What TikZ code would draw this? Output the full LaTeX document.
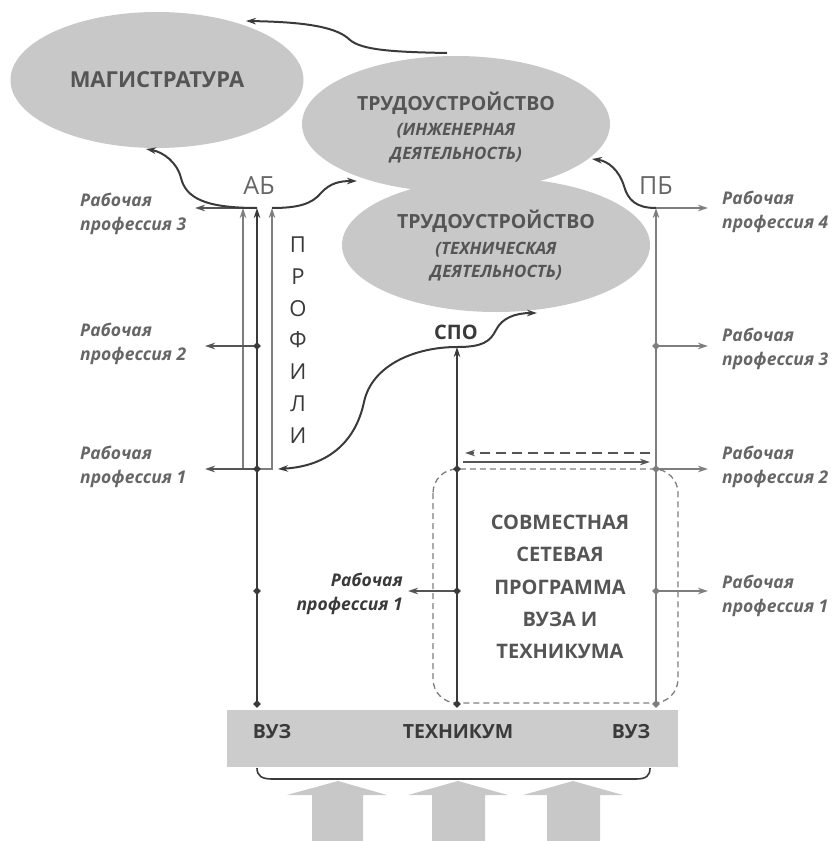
\documentclass[tikz,border=0pt]{standalone}
\usepackage{fontspec}
\setmainfont{Open Sans}
\usetikzlibrary{arrows.meta,shapes.geometric}
\definecolor{ellc}{HTML}{C8C8C8}
\definecolor{boxc}{HTML}{CCCCCC}
\definecolor{dk}{HTML}{3A3A3A}
\definecolor{md}{HTML}{555555}
\definecolor{lt}{HTML}{7E7E7E}
\definecolor{lbl}{HTML}{666666}
\begin{document}
\begin{tikzpicture}[x=1pt,y=-1pt,
  ell/.style={ellipse, fill=ellc, draw=none, inner sep=0pt},
  tip/.style={-{Stealth[length=10pt,width=6.5pt]}},
  tipb/.style={{Stealth[length=10pt,width=6.5pt]}-{Stealth[length=10pt,width=6.5pt]}},
  jdot/.style={diamond, fill=dk, inner sep=0pt, minimum size=8pt},
  jdotg/.style={diamond, fill=lt, inner sep=0pt, minimum size=8pt},
  dkln/.style={draw=dk, line width=2.2pt},
  grln/.style={draw=lt, line width=2pt},
  thinln/.style={draw=lt, line width=1.2pt},
  hln/.style={draw=md, line width=1.8pt},
  hlng/.style={draw=lt, line width=1.8pt},
  curv/.style={draw=dk, line width=2pt},
  ttl/.style={font=\fontsize{19.5}{22}\selectfont\bfseries, text=md, anchor=base, inner sep=0pt},
  sub/.style={font=\fontsize{17}{20}\selectfont\bfseries\itshape, text=md, anchor=base, inner sep=0pt},
  lab/.style={font=\fontsize{17.5}{24}\selectfont\bfseries\itshape, text=lbl, align=left, anchor=west, inner sep=0pt},
  bigarr/.style={fill=ellc, draw=none}
]
\useasboundingbox (0,0) rectangle (837,841);

% ellipses
\node[ell, minimum width=293pt, minimum height=136pt] (mag) at (157,80) {};
\node[ell, minimum width=308pt, minimum height=136pt] (eng) at (456,124) {};
\node[ell, minimum width=308pt, minimum height=134pt] (tech) at (496,245) {};

\node[ttl, font=\fontsize{22}{24}\selectfont\bfseries] (magt) at (157,87) {МАГИСТРАТУРА};
\node[ttl] (engt) at (456,110) {ТРУДОУСТРОЙСТВО};
\node[sub] (engs1) at (456,135) {(ИНЖЕНЕРНАЯ};
\node[sub] (engs2) at (456,159) {ДЕЯТЕЛЬНОСТЬ)};
\node[ttl] (techt) at (496,228) {ТРУДОУСТРОЙСТВО};
\node[sub] (techs1) at (496,254) {(ТЕХНИЧЕСКАЯ};
\node[sub] (techs2) at (496,277) {ДЕЯТЕЛЬНОСТЬ)};

% junction coordinates
\coordinate (AB) at (257,208);
\coordinate (ABl) at (243,208);
\coordinate (ABr) at (272,208);
\coordinate (Ul) at (243,469);
\coordinate (Ur) at (272,469);
\coordinate (PB) at (656,208);
\coordinate (SPO) at (457,347);
\coordinate (L1) at (257,469);
\coordinate (L2) at (257,346);
\coordinate (L3) at (257,591);
\coordinate (L0) at (257,704);
\coordinate (M1) at (457,469);
\coordinate (M2) at (457,591);
\coordinate (M0) at (457,704);
\coordinate (R1) at (656,346);
\coordinate (R2) at (656,469);
\coordinate (R3) at (656,591);
\coordinate (R0) at (656,704);
\coordinate (pl1) at (205,469);
\coordinate (pl2) at (205,346);
\coordinate (pl3) at (195,208);
\coordinate (pr4) at (708,208);
\coordinate (pr3) at (708,346);
\coordinate (pr2) at (708,469);
\coordinate (pr1) at (708,591);
\coordinate (pm1) at (408,591);
\coordinate (topS) at (447,53);
\coordinate (topE) at (246,21);
\coordinate (abLE) at (146,149);
\coordinate (abRE) at (357,181);
\coordinate (pbE) at (592,159);
\coordinate (spoL) at (278,469);
\coordinate (spoR) at (537,313);

% labels
\node[font=\fontsize{25}{28}\selectfont, text=lbl, anchor=base, inner sep=0pt] (ab) at (259,194) {АБ};
\node[font=\fontsize{25}{28}\selectfont, text=lbl, anchor=base, inner sep=0pt] (pb) at (656,194) {ПБ};
\node[font=\fontsize{20}{22}\selectfont\bfseries, text=dk, anchor=base, inner sep=0pt] (spo) at (456,339) {СПО};
\node[font=\fontsize{22}{31.8}\selectfont, text=dk, align=center, inner sep=0pt] (profili) at (298,340) {П\\Р\\О\\Ф\\И\\Л\\И};

% connectors left
\draw[dkln, tip] (L0) -- (AB);
\draw[thinln, tipb] (ABl) -- (Ul) -- (Ur) -- (ABr);
\draw[hln, tip] (L1) -- (pl1);
\draw[hln, tip] (L2) -- (pl2);
\draw[hln, tip] (AB) -- (pl3);
\draw[curv, tip] (AB) .. controls (205,208) and (186,198) .. (181,178) .. controls (177,162) and (163,152) .. (abLE);
\draw[curv, tip] (ABr) .. controls (298,208) and (312,204) .. (321,193) .. controls (330,183) and (340,181) .. (abRE);
\draw[curv, tip] (topS) .. controls (392,52) and (362,50) .. (350,40) .. controls (338,28) and (310,22) .. (topE);

% connectors right
\draw[grln, tip] (R0) -- (PB);
\draw[hlng, tip] (PB) -- (pr4);
\draw[hlng, tip] (R1) -- (pr3);
\draw[hlng, tip] (R2) -- (pr2);
\draw[hlng, tip] (R3) -- (pr1);
\draw[curv, tip] (PB) .. controls (636,208) and (628,200) .. (624,186) .. controls (619,170) and (608,161) .. (pbE);

% middle
\draw[dkln, tip] (M0) -- (SPO);
\draw[hln, tip] (M2) -- (pm1);
\draw[curv, tipb] (spoL) .. controls (330,466) and (356,440) .. (364,402) .. controls (372,365) and (415,347) .. (SPO) .. controls (482,347) and (490,342) .. (496,330) .. controls (502,318) and (515,313) .. (spoR);
\draw[hln, dash pattern=on 10pt off 6pt, tip] (650,453) -- (465,453);
\draw[hln, tip] (463,462) -- (650,462);
\draw[draw=lt, line width=1.3pt, dash pattern=on 6pt off 4pt, rounded corners=24pt] (433,469) rectangle (678,703);
\node[font=\fontsize{20}{32.2}\selectfont\bfseries, text=md, align=center, inner sep=0pt] (joint) at (560,587) {СОВМЕСТНАЯ\\СЕТЕВАЯ\\ПРОГРАММА\\ВУЗА И\\ТЕХНИКУМА};

% dots
\foreach \p in {L0,L1,L2,L3,M0,M1,M2} \node[jdot] (d\p) at (\p) {};
\foreach \p in {R0,R1,R2,R3} \node[jdotg] (d\p) at (\p) {};

% profession labels
\node[lab] (lp3) at (80,214) {Рабочая\\профессия 3};
\node[lab] (lp2) at (80,344) {Рабочая\\профессия 2};
\node[lab] (lp1) at (80,467) {Рабочая\\профессия 1};
\node[lab] (rp4) at (722,212) {Рабочая\\профессия 4};
\node[lab] (rp3) at (722,349) {Рабочая\\профессия 3};
\node[lab] (rp2) at (722,467) {Рабочая\\профессия 2};
\node[lab] (rp1) at (722,596) {Рабочая\\профессия 1};
\node[lab, align=right, anchor=east, text=dk] (mp1) at (403,594) {Рабочая\\профессия 1};

% base box
\node[fill=boxc, minimum width=451pt, minimum height=57pt, inner sep=0pt] (base) at (452.5,738.5) {};
\node[font=\fontsize{19.5}{22}\selectfont\bfseries, text=dk, anchor=base, inner sep=0pt] (vuz1) at (272,738) {ВУЗ};
\node[font=\fontsize{19.5}{22}\selectfont\bfseries, text=dk, anchor=base, inner sep=0pt] (tech2) at (458,738) {ТЕХНИКУМ};
\node[font=\fontsize{19.5}{22}\selectfont\bfseries, text=dk, anchor=base, inner sep=0pt] (vuz2) at (631,738) {ВУЗ};

% brace
\draw[draw=dk, line width=1.6pt] (257,768) .. controls (257,776) and (262,779) .. (272,779) -- (636,779) .. controls (646,779) and (650,776) .. (650,768);

% big arrows
\fill[bigarr] (338,781) -- (387,795) -- (363,795) -- (363,841) -- (312,841) -- (312,795) -- (287,795) -- cycle;
\fill[bigarr] (458,781) -- (508,795) -- (485,795) -- (485,841) -- (432,841) -- (432,795) -- (408,795) -- cycle;
\fill[bigarr] (573,781) -- (623,795) -- (600,795) -- (600,841) -- (547,841) -- (547,795) -- (523,795) -- cycle;
\end{tikzpicture}
\end{document}
